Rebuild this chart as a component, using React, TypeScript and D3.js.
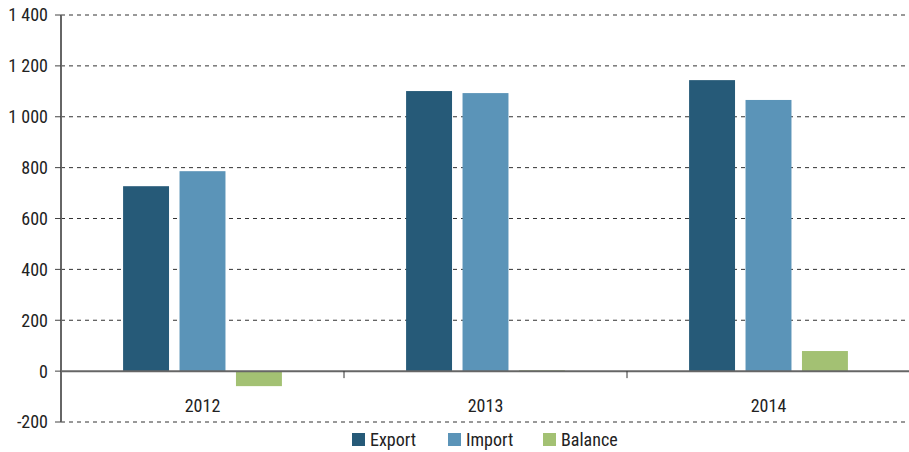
import * as d3 from "d3";

const years = ["2012", "2013", "2014"];
const seriesNames = ["Export", "Import", "Balance"];
const exportValues = [727, 1101, 1144];
const importValues = [786, 1093, 1066];
const balanceValues = [-59, 3, 79];
const yTicks = [-200, 0, 200, 400, 600, 800, 1000, 1200, 1400];
const colors = ["#265a78", "#5b94b8", "#a3c173"];

const W = 909;
const H = 452;
const font = "'Liberation Sans Narrow', 'Arial Narrow', 'Roboto Condensed', sans-serif";

// thousands with a space, like the source
const fmt = (v: number) => {
  const s = Math.abs(v).toString().replace(/\B(?=(\d{3})+(?!\d))/g, " ");
  return (v < 0 ? "-" : "") + s;
};

export default function App() {
  const y = d3.scaleLinear().domain([-200, 1400]).range([422, 15]);
  const x = d3.scaleBand().domain(years).range([61, 910]);
  const inner = d3
    .scaleBand()
    .domain(seriesNames)
    .range([0, x.bandwidth()])
    .paddingInner(0.186)
    .paddingOuter(1.1);
  const series = [exportValues, importValues, balanceValues];

  return (
    <svg width={W} height={H} style={{ position: "absolute", left: 0, top: 0 }} fontFamily={font}>
      {/* grid */}
      {yTicks.filter((t) => t !== 0).map((t) => (
        <line key={t} x1={61} x2={909} y1={y(t)} y2={y(t)} stroke="#333" strokeWidth={1} strokeDasharray="4,4" />
      ))}
      {/* bars */}
      {years.map((yr, i) => (
        <g key={yr} transform={`translate(${x(yr)},0)`}>
          {series.map((vals, j) => {
            const v = vals[i];
            return (
              <rect
                key={j}
                x={inner(seriesNames[j])}
                width={inner.bandwidth()}
                y={Math.min(y(v), y(0))}
                height={Math.abs(y(v) - y(0))}
                fill={colors[j]}
              />
            );
          })}
        </g>
      ))}
      {/* y axis */}
      <line x1={61} x2={61} y1={15} y2={422} stroke="#666" strokeWidth={2} />
      {yTicks.map((t) => (
        <g key={t}>
          <line x1={55} x2={61} y1={y(t)} y2={y(t)} stroke="#444" strokeWidth={1} />
          <text x={48} y={y(t)} dy="0.36em" textAnchor="end" fontSize={18} fill="#222">
            {fmt(t)}
          </text>
        </g>
      ))}
      {/* zero line */}
      <line x1={61} x2={909} y1={y(0)} y2={y(0)} stroke="#666" strokeWidth={2} />
      {years.slice(1).map((yr) => (
        <line key={yr} x1={x(yr)} x2={x(yr)} y1={y(0)} y2={y(0) + 7} stroke="#333" strokeWidth={1} />
      ))}
      {years.map((yr) => (
        <text key={yr} x={(x(yr) as number) + x.bandwidth() / 2} y={412} textAnchor="middle" fontSize={18} fill="#222">
          {yr}
        </text>
      ))}
      {/* legend */}
      {seriesNames.map((n, j) => {
        const lx = [352, 448, 543][j];
        return (
          <g key={n}>
            <rect x={lx} y={433} width={13} height={13} fill={colors[j]} />
            <text x={lx + 18} y={446} fontSize={18} fill="#222">
              {n}
            </text>
          </g>
        );
      })}
    </svg>
  );
}
